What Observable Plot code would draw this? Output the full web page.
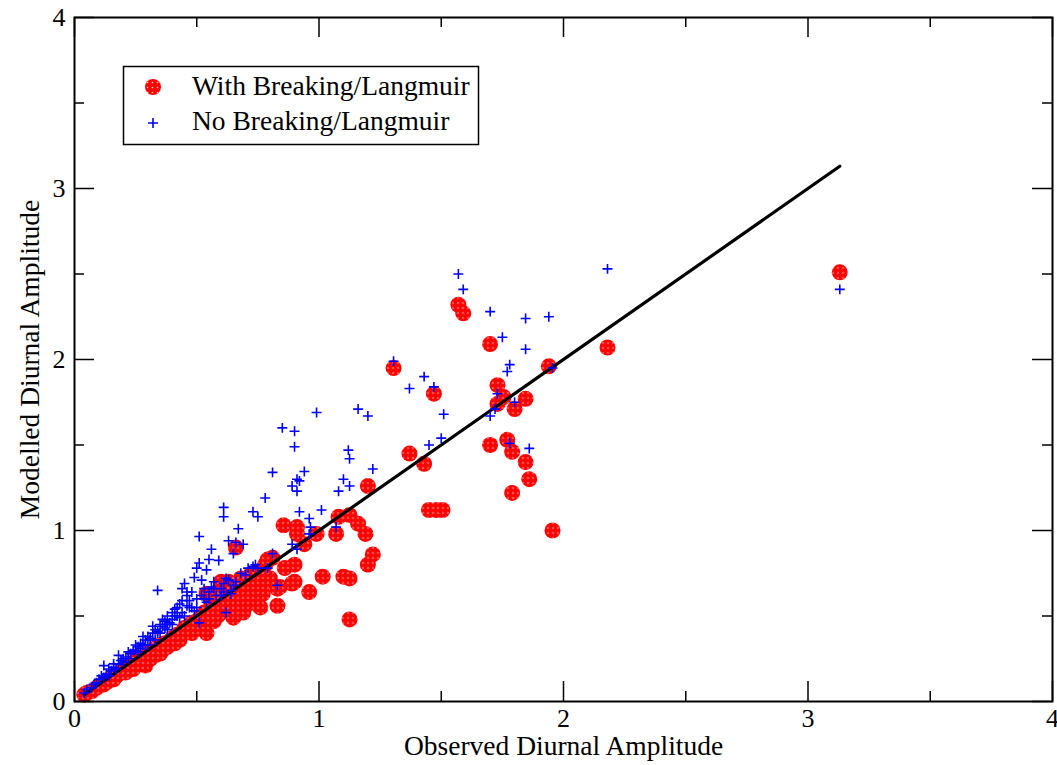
<!DOCTYPE html>
<html><head><meta charset="utf-8">
<script src="https://cdn.jsdelivr.net/npm/d3@7"></script>
<script src="https://cdn.jsdelivr.net/npm/@observablehq/plot@0.6"></script>
<style>body{margin:0;background:#fff}</style>
</head><body><div id="chart"></div>
<script>
// "With Breaking/Langmuir" (observed, modelled)
const withX = [3.13,2.18,1.955,1.94,1.86,1.845,1.845,1.80,1.79,1.79,1.77,1.70,1.755,1.73,1.73,1.70,1.59,1.57,1.505,1.48,1.45,1.47,1.43,1.37,1.305,1.20,1.22,1.20,1.125,1.125,1.10,1.015,1.19,1.16,1.125,1.08,1.07,0.99,0.96,0.91,0.855,0.91,0.90,0.90,0.89,0.84,0.81,0.79,0.76,0.83,0.83,0.68,0.66,0.63,0.61,0.73,0.67,0.76,0.65,0.585,0.53,0.50,0.54,0.60,0.60,0.54,0.70,0.72,0.78,0.86,0.94,
  0.04,0.05,0.07,0.09,0.10,0.12,0.14,0.15,0.17,0.19,0.20,0.22,0.24,0.25,0.27,0.29,0.30,0.33,0.33,0.35,0.37,0.39,0.40,0.42,0.44,0.45,0.47,0.48,0.50,0.52,0.53,0.55,0.57,0.58,0.62,0.64,0.66,0.70,0.72,0.75,0.78,0.16,0.21,0.26,0.32,0.36,0.41,0.46,0.51,0.56,0.60,
  0.56,0.59,0.63,0.65,0.68,0.71,0.74,0.77,0.80,0.57,0.62,0.69,0.48,0.43,0.38,0.31,0.24,0.18,0.35];
const withY = [2.51,2.07,1.00,1.96,1.30,1.40,1.77,1.71,1.46,1.22,1.53,1.50,1.78,1.74,1.85,2.09,2.27,2.32,1.12,1.12,1.12,1.80,1.39,1.45,1.95,1.26,0.86,0.80,0.48,0.72,0.73,0.73,0.98,1.04,1.09,1.08,0.98,0.98,0.64,1.02,1.03,0.98,0.80,0.70,0.69,0.67,0.84,0.83,0.75,0.66,0.56,0.72,0.90,0.70,0.64,0.62,0.55,0.55,0.49,0.50,0.49,0.43,0.40,0.57,0.70,0.63,0.60,0.68,0.70,0.78,0.92,
  0.04,0.05,0.06,0.08,0.09,0.10,0.12,0.14,0.15,0.17,0.19,0.20,0.22,0.24,0.25,0.21,0.28,0.27,0.31,0.33,0.34,0.35,0.37,0.39,0.40,0.43,0.44,0.46,0.47,0.50,0.52,0.53,0.55,0.60,0.60,0.66,0.68,0.70,0.74,0.76,0.80,0.13,0.17,0.22,0.30,0.30,0.34,0.41,0.45,0.50,0.52,
  0.58,0.65,0.62,0.58,0.63,0.57,0.66,0.63,0.72,0.47,0.55,0.52,0.40,0.36,0.32,0.25,0.19,0.16,0.28];

// "No Breaking/Langmuir" (observed, modelled)
const noX = [3.13,2.18,1.94,1.845,1.70,1.57,1.59,1.75,1.845,1.78,1.77,1.955,1.305,1.43,1.47,1.37,1.51,1.73,1.80,1.72,1.70,1.50,1.45,1.78,1.86,0.99,1.16,1.20,0.85,0.90,0.90,1.12,1.125,1.22,0.81,0.94,0.91,0.92,0.89,0.91,1.10,1.125,1.08,0.78,0.61,0.61,0.73,0.75,0.92,1.01,0.96,0.965,0.96,1.07,0.67,0.63,0.66,0.69,0.65,0.89,0.91,0.81,0.51,0.56,0.55,0.59,0.51,0.54,0.50,0.49,0.52,0.34,0.45,0.44,0.46,0.63,0.65,0.75,0.71,0.61,0.56,0.64,0.64,0.61,0.62,0.83,0.79,0.73,0.51,
  0.04,0.05,0.07,0.08,0.09,0.10,0.12,0.12,0.13,0.15,0.16,0.18,0.18,0.19,0.21,0.23,0.24,0.26,0.27,0.29,0.30,0.32,0.33,0.35,0.36,0.38,0.40,0.41,0.43,0.44,0.46,0.48,0.35,0.30,0.40,0.45,0.50,0.55,0.60,0.22,0.25,0.28,0.31,0.34,0.37,0.39,0.42,0.47,0.53,0.57,0.14,0.17,0.20,
  0.20,0.22,0.25,0.27,0.28,0.31,0.32,0.34,0.36,0.37,0.38,0.40,0.41,0.42,0.44,0.46,0.47,0.48,0.50,0.52,0.53,0.55,0.57,0.58,0.60,0.62,0.66,0.68,0.70,0.74,0.16,0.14,0.11,0.26,0.29,0.33,0.38,0.43,0.49,0.54];
const noY = [2.41,2.53,2.25,2.24,2.28,2.50,2.41,2.13,2.06,1.97,1.93,1.95,1.99,1.90,1.84,1.83,1.68,1.80,1.75,1.71,1.67,1.54,1.50,1.51,1.48,1.69,1.71,1.67,1.60,1.58,1.49,1.47,1.42,1.36,1.34,1.345,1.30,1.29,1.26,1.23,1.30,1.26,1.23,1.19,1.135,1.08,1.11,1.08,1.11,1.12,1.07,1.02,0.98,1.02,1.01,0.94,0.93,0.92,0.865,0.92,0.89,0.865,0.965,0.89,0.83,0.825,0.81,0.77,0.78,0.725,0.71,0.65,0.69,0.66,0.64,0.71,0.68,0.78,0.78,0.69,0.67,0.65,0.63,0.64,0.52,0.68,0.78,0.79,0.46,
  0.05,0.07,0.08,0.10,0.11,0.13,0.14,0.21,0.16,0.18,0.20,0.22,0.27,0.24,0.26,0.28,0.30,0.32,0.34,0.36,0.38,0.40,0.42,0.45,0.48,0.50,0.52,0.54,0.57,0.59,0.62,0.64,0.40,0.33,0.45,0.50,0.55,0.60,0.62,0.25,0.30,0.33,0.36,0.40,0.43,0.46,0.50,0.55,0.60,0.66,0.15,0.19,0.23,
  0.25,0.29,0.33,0.31,0.38,0.37,0.44,0.41,0.44,0.47,0.42,0.48,0.50,0.55,0.52,0.56,0.59,0.55,0.60,0.62,0.66,0.64,0.70,0.62,0.66,0.72,0.70,0.75,0.74,0.80,0.22,0.19,0.15,0.29,0.33,0.36,0.45,0.49,0.53,0.58];

// 1:1 reference line over the observed range
const lineX = [0.04, 3.13];
const lineY = [0.04, 3.13];

const majorTicks = [0, 1, 2, 3, 4];
const minorTicks = [0.5, 1.5, 2.5, 3.5];
const xTitle = "Observed Diurnal Amplitude";
const yTitle = "Modelled Diurnal Amplitude";
const seriesNames = ["With Breaking/Langmuir", "No Breaking/Langmuir"];

const withData = withX.map((x, i) => ({x, y: withY[i]}));
const noData = noX.map((x, i) => ({x, y: noY[i]}));
const lineData = lineX.map((x, i) => ({x, y: lineY[i]}));

const W = 1057, H = 765, mL = 74, mT = 17, mR = 5, mB = 64;
const innerW = W - mL - mR, innerH = H - mT - mB;
const font = "'Liberation Serif','Times New Roman',serif";
const MAJ = 20, MIN = 10;

const plot = Plot.plot({
  width: W, height: H,
  marginLeft: mL, marginTop: mT, marginRight: mR, marginBottom: mB,
  style: {fontFamily: font, background: "white", color: "black"},
  x: {domain: [0, 4]},
  y: {domain: [0, 4]},
  marks: [
    Plot.dot(withData, {x: "x", y: "y", r: 8, fill: "url(#speckle)", stroke: "none"}),
    Plot.line(lineData, {x: "x", y: "y", stroke: "black", strokeWidth: 3.2}),
    Plot.dot(noData, {x: "x", y: "y", symbol: "plus", r: 3.3, stroke: "#0000ff", strokeWidth: 1.6}),
    // inward ticks on all four sides
    Plot.tickX(majorTicks, {x: d => d, insetTop: innerH - MAJ, stroke: "black", strokeWidth: 1.5}),
    Plot.tickX(minorTicks, {x: d => d, insetTop: innerH - MIN, stroke: "black", strokeWidth: 1.5}),
    Plot.tickX(majorTicks, {x: d => d, insetBottom: innerH - MAJ, stroke: "black", strokeWidth: 1.5}),
    Plot.tickX(minorTicks, {x: d => d, insetBottom: innerH - MIN, stroke: "black", strokeWidth: 1.5}),
    Plot.tickY(majorTicks, {y: d => d, insetRight: innerW - MAJ, stroke: "black", strokeWidth: 1.5}),
    Plot.tickY(minorTicks, {y: d => d, insetRight: innerW - MIN, stroke: "black", strokeWidth: 1.5}),
    Plot.tickY(majorTicks, {y: d => d, insetLeft: innerW - MAJ, stroke: "black", strokeWidth: 1.5}),
    Plot.tickY(minorTicks, {y: d => d, insetLeft: innerW - MIN, stroke: "black", strokeWidth: 1.5}),
    Plot.axisX({ticks: majorTicks, tickSize: 0, tickPadding: 7, fontSize: 26, label: null, tickFormat: d => String(d)}),
    Plot.axisY({ticks: majorTicks, tickSize: 0, tickPadding: 9, fontSize: 26, label: null, tickFormat: d => String(d)}),
    Plot.text([xTitle], {text: d => d, frameAnchor: "bottom", dy: 53, fontSize: 27.5, fill: "black"}),
    Plot.text([yTitle], {text: d => d, frameAnchor: "left", textAnchor: "middle", dx: -44, rotate: -90, fontSize: 27.5, fill: "black"}),
    Plot.frame({stroke: "black", strokeWidth: 2})
  ]
});

// speckled red fill pattern
const svg = d3.select(plot);
const defs = svg.insert("defs", ":first-child");
const pat = defs.append("pattern").attr("id", "speckle").attr("patternUnits", "userSpaceOnUse")
  .attr("width", 5).attr("height", 5);
pat.append("rect").attr("width", 5).attr("height", 5).attr("fill", "#ff0000");
pat.append("circle").attr("cx", 2.5).attr("cy", 2.5).attr("r", 0.8).attr("fill", "#ffdede");

// legend box
const lg = svg.append("g").attr("font-family", font).attr("text-anchor", "start");
lg.append("rect").attr("x", 123.5).attr("y", 66.5).attr("width", 355).attr("height", 78)
  .attr("fill", "white").attr("stroke", "black").attr("stroke-width", 1.5);
lg.append("circle").attr("cx", 153).attr("cy", 87).attr("r", 8).attr("fill", "url(#speckle)");
lg.append("path").attr("d", "M148,123H158M153,118V128").attr("stroke", "#0000ff").attr("stroke-width", 1.6);
lg.append("text").attr("x", 192).attr("y", 95).attr("font-size", 27.5).attr("text-anchor", "start").text(seriesNames[0]);
lg.append("text").attr("x", 192).attr("y", 130).attr("font-size", 27.5).attr("text-anchor", "start").text(seriesNames[1]);

document.getElementById("chart").appendChild(plot);
</script>
</body></html>
